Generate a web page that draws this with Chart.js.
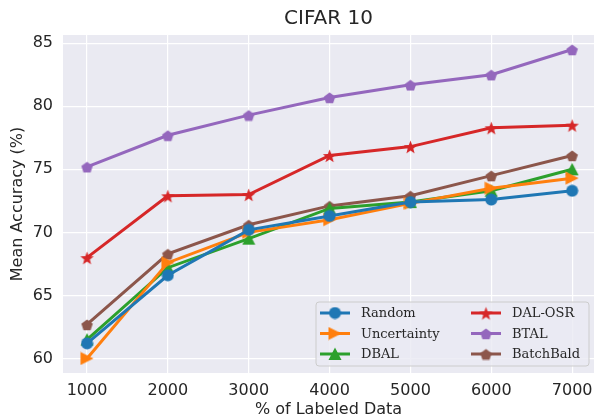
<!DOCTYPE html>
<html>
<head>
<meta charset="utf-8">
<script src="https://cdn.jsdelivr.net/npm/chart.js@4.4.0/dist/chart.umd.min.js"></script>
<style>
  html, body { margin: 0; padding: 0; background: #ffffff; }
  #wrap { width: 594px; height: 419px; }
</style>
</head>
<body>
<div id="wrap"><canvas id="canvas" width="594" height="419"></canvas></div>
<script>
// data
const labeled = [1000, 2000, 3000, 4000, 5000, 6000, 7000];
const random = [61.2, 66.6, 70.2, 71.3, 72.4, 72.6, 73.3];
const uncertainty = [60.0, 67.6, 70.0, 71.0, 72.3, 73.5, 74.3];
const dbal = [61.5, 67.2, 69.5, 71.9, 72.4, 73.3, 75.0];
const dalOsr = [68.0, 72.9, 73.0, 76.1, 76.8, 78.3, 78.5];
const btal = [75.2, 77.7, 79.3, 80.7, 81.7, 82.5, 84.5];
const batchBald = [62.7, 68.3, 70.6, 72.1, 72.9, 74.5, 76.1];
const xTicks = [1000, 2000, 3000, 4000, 5000, 6000, 7000];
const yTicks = [60, 65, 70, 75, 80, 85];

// little canvases for the marker shapes chart.js doesn't have
function marker(shape, color, size) {
    const c = document.createElement('canvas');
    c.width = size; c.height = size;
    const g = c.getContext('2d');
    const m = size / 2;
    g.fillStyle = color;
    g.beginPath();
    if (shape === 'pentagon') {
        const r = m - 0.5;
        for (let i = 0; i < 5; i++) {
            const a = -Math.PI / 2 + i * 2 * Math.PI / 5;
            g.lineTo(m + r * Math.cos(a), m + 1 + r * Math.sin(a));
        }
    } else if (shape === 'star') {
        const r = m - 0.5, ri = r * 0.42;
        for (let i = 0; i < 10; i++) {
            const a = -Math.PI / 2 + i * Math.PI / 5;
            const rr = i % 2 ? ri : r;
            g.lineTo(m + rr * Math.cos(a), m + 1 + rr * Math.sin(a));
        }
    } else if (shape === 'right') {
        g.moveTo(0.5, 0.5); g.lineTo(size - 0.5, m); g.lineTo(0.5, size - 0.5);
    } else if (shape === 'up') {
        g.moveTo(m, 0.5); g.lineTo(size - 0.5, size - 1); g.lineTo(0.5, size - 1);
    } else {
        g.arc(m, m, m - 0.5, 0, Math.PI * 2);
    }
    g.closePath();
    g.fill();
    return c;
}

const series = [
    {label: 'Random', data: random, color: '#1f77b4', shape: 'circle', size: 13},
    {label: 'Uncertainty', data: uncertainty, color: '#ff7f0e', shape: 'right', size: 14},
    {label: 'DBAL', data: dbal, color: '#2ca02c', shape: 'up', size: 14},
    {label: 'DAL-OSR', data: dalOsr, color: '#d62728', shape: 'star', size: 15},
    {label: 'BTAL', data: btal, color: '#9467bd', shape: 'pentagon', size: 13},
    {label: 'BatchBald', data: batchBald, color: '#8c564b', shape: 'pentagon', size: 13}
];

const datasets = series.map(s => {
    const img = marker(s.shape, s.color, s.size);
    s.img = img;
    return {
        label: s.label,
        data: s.data.map((v, i) => ({x: labeled[i], y: v})),
        borderColor: s.color,
        backgroundColor: s.color,
        borderWidth: 3,
        pointStyle: img,
        pointRadius: s.size / 2,
        tension: 0,
        fill: false
    };
});

// seaborn like background and a legend drawn inside the plot
const bgPlugin = {
    id: 'bg',
    beforeDraw(chart) {
        const a = chart.chartArea, ctx = chart.ctx;
        ctx.save();
        ctx.fillStyle = '#eaeaf2';
        ctx.fillRect(a.left, a.top, a.right - a.left, a.bottom - a.top);
        ctx.restore();
    }
};

function roundRect(ctx, x, y, w, h, r) {
    ctx.beginPath();
    ctx.moveTo(x + r, y);
    ctx.arcTo(x + w, y, x + w, y + h, r);
    ctx.arcTo(x + w, y + h, x, y + h, r);
    ctx.arcTo(x, y + h, x, y, r);
    ctx.arcTo(x, y, x + w, y, r);
    ctx.closePath();
}

const legendPlugin = {
    id: 'innerLegend',
    afterDraw(chart) {
        const a = chart.chartArea, ctx = chart.ctx;
        const bx = 316, by = a.bottom - 71, bw = 273, bh = 64;
        ctx.save();
        roundRect(ctx, bx, by, bw, bh, 3);
        ctx.fillStyle = 'rgba(234,234,242,0.8)';
        ctx.fill();
        ctx.strokeStyle = '#cccccc';
        ctx.lineWidth = 1;
        ctx.stroke();
        ctx.font = '13px "DejaVu Serif"';
        ctx.textBaseline = 'middle';
        series.forEach((s, i) => {
            const col = Math.floor(i / 3), row = i % 3;
            const lx = bx + 4 + col * 151, ly = by + 11 + row * 20.5;
            ctx.strokeStyle = s.color;
            ctx.lineWidth = 3;
            ctx.beginPath();
            ctx.moveTo(lx, ly); ctx.lineTo(lx + 30, ly);
            ctx.stroke();
            ctx.drawImage(s.img, lx + 15 - s.size / 2, ly - s.size / 2);
            ctx.fillStyle = '#262626';
            ctx.fillText(s.label, lx + 41, ly + 1);
        });
        ctx.restore();
    }
};

const tickFont = {family: 'DejaVu Sans', size: 16};

const config = {
    type: 'line',
    data: {datasets: datasets},
    options: {
        responsive: false,
        animation: false,
        layout: {autoPadding: false, padding: {left: 8, right: 0, top: 0, bottom: 0}},
        plugins: {
            legend: {display: false},
            tooltip: {enabled: false},
            title: {
                display: true,
                fullSize: false,
                text: 'CIFAR 10',
                color: '#262626',
                font: {family: 'DejaVu Sans', size: 20, weight: 'normal'},
                padding: {top: 7, bottom: 4}
            }
        },
        scales: {
            x: {
                type: 'linear',
                min: 703,
                max: 7270,
                afterBuildTicks: axis => { axis.ticks = xTicks.map(v => ({value: v})); },
                afterFit: axis => { axis.height = 46; axis.paddingLeft = 0; axis.paddingRight = 0; },
                grid: {color: '#ffffff', lineWidth: 1.2, drawTicks: false},
                border: {display: false},
                ticks: {color: '#262626', font: tickFont, padding: 8, callback: v => String(v)},
                title: {display: true, text: '% of Labeled Data', color: '#262626',
                        font: {family: 'DejaVu Sans', size: 16}, padding: {top: 1, bottom: 0}}
            },
            y: {
                min: 58.85,
                max: 85.65,
                afterBuildTicks: axis => { axis.ticks = yTicks.map(v => ({value: v})); },
                afterFit: axis => { axis.width = 55; axis.paddingTop = 0; axis.paddingBottom = 0; },
                grid: {color: '#ffffff', lineWidth: 1.2, drawTicks: false},
                border: {display: false},
                ticks: {color: '#262626', font: tickFont, padding: 10},
                title: {display: true, text: 'Mean Accuracy (%)', color: '#262626',
                        font: {family: 'DejaVu Sans', size: 16}, padding: {top: 0, bottom: 5}}
            }
        }
    },
    plugins: [bgPlugin, legendPlugin]
};

const myChart = new Chart(document.getElementById('canvas').getContext('2d'), config);
</script>
</body>
</html>
